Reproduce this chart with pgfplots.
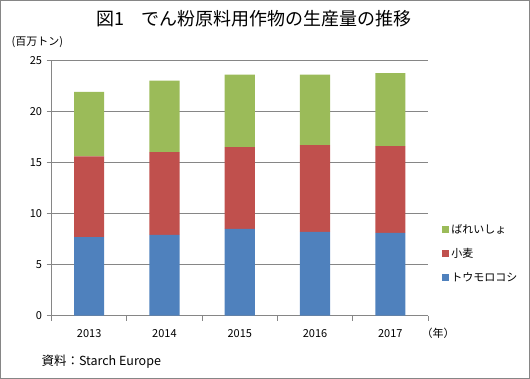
\documentclass[border=0pt]{standalone}
\usepackage{fontspec}
\setmainfont{Noto Sans CJK JP}
\usepackage{pgfplots}
\pgfplotsset{compat=1.18}
\definecolor{cblue}{HTML}{4F81BD}
\definecolor{cred}{HTML}{C0504D}
\definecolor{cgreen}{HTML}{9BBB59}
\definecolor{cgrid}{HTML}{868686}
\begin{document}
\begin{tikzpicture}[x=1pt,y=1pt]
\draw[cgrid, line width=1pt] (0.5,0.5) rectangle (529.5,378.5);
\node[font=\fontsize{18}{21}\selectfont] at (254,360) {図1\quad でん粉原料用作物の生産量の推移};
\node[font=\fontsize{11}{12}\selectfont, anchor=west] at (8,337) {(百万トン)};
\node[font=\fontsize{11}{12}\selectfont, anchor=west] at (418,46) {（年）};
\node[font=\fontsize{12.5}{14}\selectfont, anchor=west] at (38,17) {資料：Starch Europe};
\begin{axis}[
  at={(51.5pt,63.3pt)}, anchor=south west,
  scale only axis, width=376.5pt, height=255.4pt,
  ybar stacked, bar width=0.4,
  xmin=-0.5, xmax=4.5, ymin=0, ymax=25,
  ytick={0,5,10,15,20,25},
  xtick={0,1,2,3,4},
  xticklabels={2013,2014,2015,2016,2017},
  major x tick style={draw=none},
  extra x ticks={-0.5,0.5,1.5,2.5,3.5,4.5},
  extra x tick labels={},
  extra x tick style={grid=none, major tick length=5pt, tick align=outside, major x tick style={draw=cgrid}},
  axis x line*=bottom, axis y line*=left,
  axis line style={cgrid, -},
  y axis line style={cgrid},
  ymajorgrids, grid style={cgrid, line width=0.8pt},
  major tick length=5pt, tick align=outside,
  tick style={cgrid, line width=0.8pt},
  /pgf/number format/assume math mode=true,
  ticklabel style={font=\fontsize{11}{12}\selectfont},
  xticklabel style={yshift=-5pt},
  yticklabel style={xshift=-1pt},
  legend reversed,
  legend cell align=left,
  legend style={draw=none, fill=none, at={(1.03,0.375)}, anchor=north west,
    font=\fontsize{11}{12}\selectfont, row sep=9.5pt},
  legend image code/.code={\fill[#1] (0pt,-3.5pt) rectangle (7pt,3.5pt);},
]
\addplot[fill=cblue, draw=none] coordinates {(0,7.7) (1,7.9) (2,8.5) (3,8.2) (4,8.1)};
\addlegendentry{トウモロコシ}
\addplot[fill=cred, draw=none] coordinates {(0,7.9) (1,8.1) (2,8.0) (3,8.5) (4,8.5)};
\addlegendentry{小麦}
\addplot[fill=cgreen, draw=none] coordinates {(0,6.3) (1,7.0) (2,7.1) (3,6.9) (4,7.15)};
\addlegendentry{ばれいしょ}
\end{axis}
\end{tikzpicture}
\end{document}
